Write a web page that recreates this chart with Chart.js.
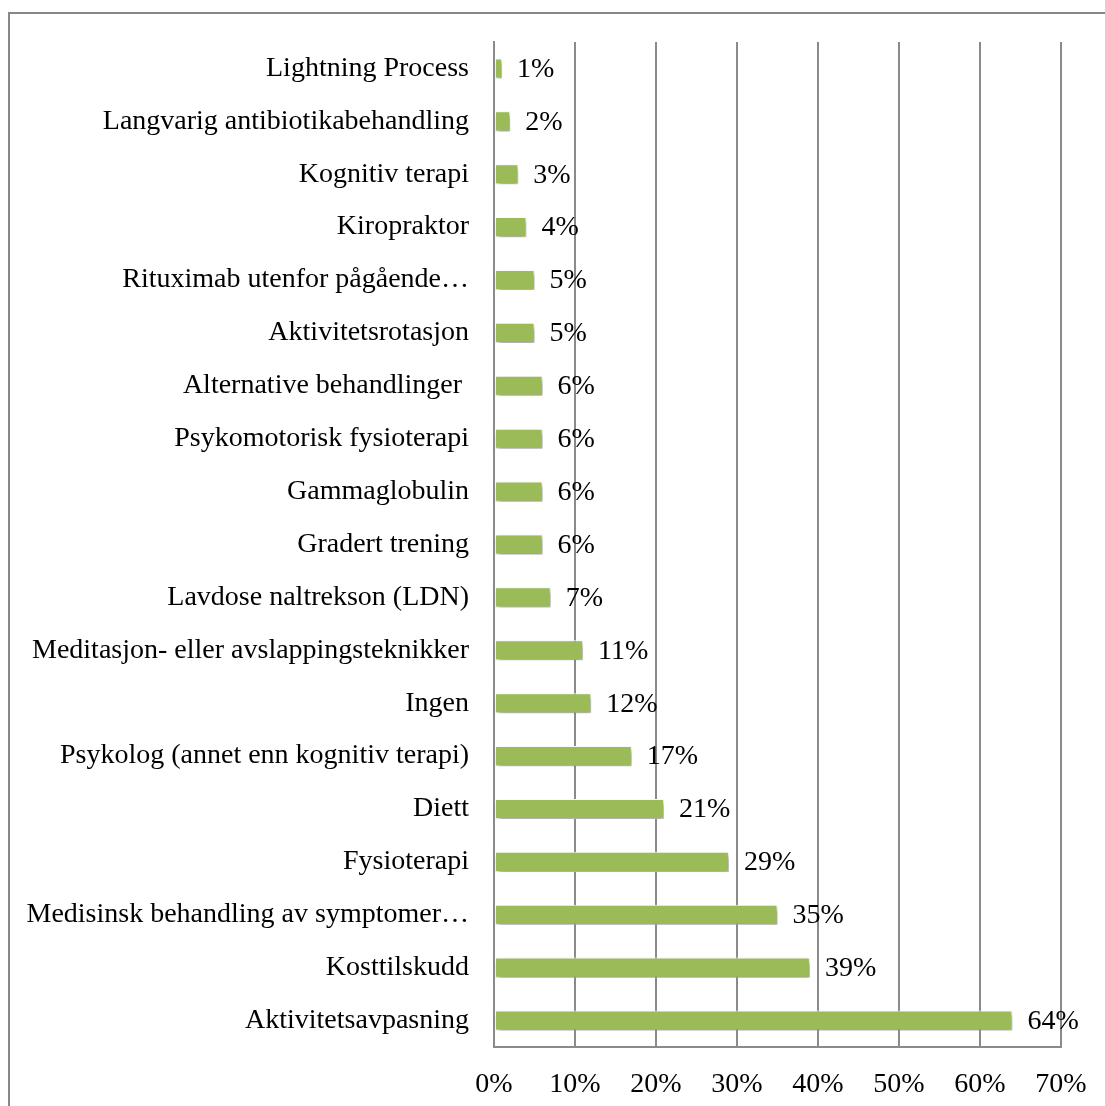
<!DOCTYPE html>
<html>
<head>
<meta charset="utf-8">
<script src="https://cdn.jsdelivr.net/npm/chart.js@4"></script>
<style>
    html, body {
        margin: 0;
        padding: 0;
        overflow: hidden;
        background: #ffffff;
    }
    .wrapper {
        position: relative;
        width: 1105px;
        height: 1106px;
    }
    .frame {
        position: absolute;
        left: 8px;
        top: 12px;
        width: 1200px;
        height: 1200px;
        border-left: 2px solid #878787;
        border-top: 2px solid #878787;
    }
    canvas {
        position: absolute;
        left: 0;
        top: 0;
    }
</style>
</head>
<body>
<div class="wrapper">
    <div class="frame"></div>
    <canvas id="chart" width="1105" height="1106"></canvas>
</div>
<script>
    const categories = [
        'Lightning Process',
        'Langvarig antibiotikabehandling',
        'Kognitiv terapi',
        'Kiropraktor',
        'Rituximab utenfor pågående…',
        'Aktivitetsrotasjon',
        'Alternative behandlinger ',
        'Psykomotorisk fysioterapi',
        'Gammaglobulin',
        'Gradert trening',
        'Lavdose naltrekson (LDN)',
        'Meditasjon- eller avslappingsteknikker',
        'Ingen',
        'Psykolog (annet enn kognitiv terapi)',
        'Diett',
        'Fysioterapi',
        'Medisinsk behandling av symptomer…',
        'Kosttilskudd',
        'Aktivitetsavpasning',
    ];
    const percentages = [1, 2, 3, 4, 5, 5, 6, 6, 6, 6, 7, 11, 12, 17, 21, 29, 35, 39, 64];
    const tickValues = [0, 10, 20, 30, 40, 50, 60, 70];

    const fontFamily = "'Liberation Serif', serif";
    const fontSize = 28;
    const gridColor = '#8a8a8a';

    // soft drop shadow under the bars
    const barShadow = {
        id: 'barShadow',
        beforeDatasetsDraw(chart) {
            const ctx = chart.ctx;
            ctx.save();
            ctx.shadowColor = 'rgba(0, 0, 0, 0.4)';
            ctx.shadowBlur = 5;
            ctx.shadowOffsetX = 2;
            ctx.shadowOffsetY = 3;
        },
        afterDatasetsDraw(chart) {
            chart.ctx.restore();
        },
    };

    // percentage text to the right of each bar
    const valueLabels = {
        id: 'valueLabels',
        afterDatasetsDraw(chart) {
            const ctx = chart.ctx;
            const meta = chart.getDatasetMeta(0);
            ctx.save();
            ctx.font = fontSize + 'px ' + fontFamily;
            ctx.fillStyle = '#000000';
            ctx.textAlign = 'left';
            ctx.textBaseline = 'middle';
            meta.data.forEach((bar, i) => {
                ctx.fillText(percentages[i] + '%', bar.x + 15, bar.y + 1);
            });
            ctx.restore();
        },
    };

    const ctx = document.getElementById('chart').getContext('2d');
    new Chart(ctx, {
        type: 'bar',
        data: {
            labels: categories,
            datasets: [
                {
                    data: percentages,
                    backgroundColor: '#9bbb59',
                    borderColor: '#ffffff',
                    borderWidth: 1,
                    borderSkipped: false,
                    categoryPercentage: 1,
                    barPercentage: 0.38,
                },
            ],
        },
        options: {
            indexAxis: 'y',
            responsive: false,
            animation: false,
            layout: {
                padding: { top: 42, right: 44, left: 0, bottom: 0 },
            },
            plugins: {
                legend: { display: false },
                tooltip: { enabled: false },
            },
            scales: {
                x: {
                    min: 0,
                    max: 70,
                    afterBuildTicks: (scale) => {
                        scale.ticks = tickValues.map((v) => ({ value: v }));
                    },
                    afterFit: (scale) => {
                        scale.height = 59;
                        scale.paddingLeft = 0;
                        scale.paddingRight = 0;
                    },
                    ticks: {
                        callback: (value) => value + '%',
                        color: '#000000',
                        padding: 21,
                        maxRotation: 0,
                        font: { family: fontFamily, size: fontSize },
                    },
                    grid: {
                        color: gridColor,
                        lineWidth: 2,
                        drawTicks: false,
                    },
                    border: { color: gridColor, width: 2 },
                },
                y: {
                    afterFit: (scale) => {
                        scale.width = 494;
                    },
                    ticks: {
                        color: '#000000',
                        padding: 25,
                        autoSkip: false,
                        font: { family: fontFamily, size: fontSize },
                    },
                    grid: { display: false, drawTicks: false },
                    border: { color: gridColor, width: 2 },
                },
            },
        },
        plugins: [barShadow, valueLabels],
    });
</script>
</body>
</html>
